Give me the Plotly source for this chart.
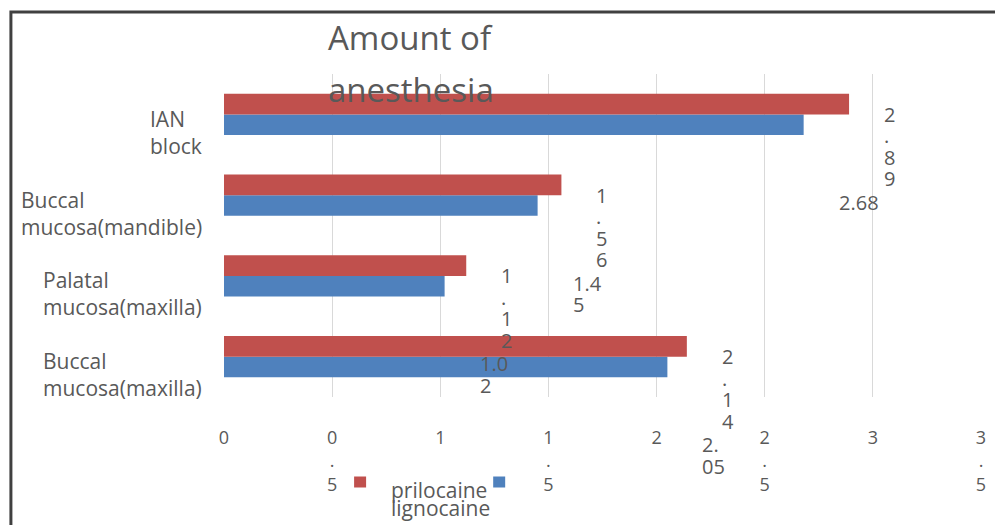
import plotly.graph_objects as go

# ---- data -------------------------------------------------------------
categories = [
    "Buccal mucosa(maxilla)",
    "Palatal mucosa(maxilla)",
    "Buccal mucosa(mandible)",
    "IAN block",
]
prilocaine = [2.14, 1.12, 1.56, 2.89]
lignocaine = [2.05, 1.02, 1.45, 2.68]
series_names = ["prilocaine", "lignocaine"]
x_ticks = [0, 0.5, 1, 1.5, 2, 2.5, 3, 3.5]
title_lines = ["Amount of", "anesthesia"]

# characters per line of each wrapped value label
prilocaine_wrap = [1, 1, 1, 1]
lignocaine_wrap = [2, 3, 3, 4]

# ---- style ------------------------------------------------------------
RED = "#c0504d"
BLUE = "#4f81bd"
TEXT = "#595959"
GRID = "#d9d9d9"
FONT = "Open Sans"

W, H = 995, 525
L, R, T, B = 224, 9, 74, 128


def px_x(px):
    return (px - L) / (W - L - R)


def px_y(py):
    return (H - B - py) / (H - T - B)


def wrap(text, width):
    return [text[i:i + width] for i in range(0, len(text), width)]


fig = go.Figure()
fig.add_trace(go.Bar(y=categories, x=lignocaine, name=series_names[1],
                     orientation="h", marker=dict(color=BLUE, line=dict(width=0))))
fig.add_trace(go.Bar(y=categories, x=prilocaine, name=series_names[0],
                     orientation="h", marker=dict(color=RED, line=dict(width=0))))

# value labels, one annotation per wrapped line
LINE_H = 21.5
for vals, widths, base in ((prilocaine, prilocaine_wrap, 0),
                           (lignocaine, lignocaine_wrap, -88)):
    for cat, v, w in zip(categories, vals, widths):
        for i, line in enumerate(wrap(f"{v:.2f}", w)):
            fig.add_annotation(x=v, y=cat, xref="x", yref="y", text=line,
                               showarrow=False, xanchor="left", yanchor="middle",
                               xshift=33, yshift=base - i * LINE_H,
                               font=dict(family=FONT, size=20, color=TEXT))

# category labels, left-aligned blocks ending left of the plot
for cat in categories:
    first, rest = cat.split(" ", 1)
    fig.add_annotation(x=0, y=cat, xref="paper", yref="y",
                       text=f"{first}<br>{rest}", showarrow=False,
                       xanchor="right", yanchor="middle", align="left",
                       xshift=-20, yshift=-18,
                       font=dict(family=FONT, size=21, color=TEXT))

# chart title on two widely spaced lines
for line, py in zip(title_lines, (37, 89)):
    fig.add_annotation(x=px_x(412), y=px_y(py), xref="paper", yref="paper",
                       text=line, showarrow=False, xanchor="center",
                       yanchor="middle",
                       font=dict(family=FONT, size=33, color=TEXT))

# legend: two swatches and stacked names
for color, cx in ((RED, 361), (BLUE, 501)):
    fig.add_shape(type="rect", xref="paper", yref="paper",
                  xsizemode="pixel", ysizemode="pixel",
                  xanchor=px_x(cx), yanchor=px_y(482),
                  x0=-6, x1=6, y0=-5.5, y1=5.5,
                  fillcolor=color, line=dict(width=0))
for name, py in zip(series_names, (490, 508)):
    fig.add_annotation(x=px_x(390), y=px_y(py), xref="paper", yref="paper",
                       text=name, showarrow=False, xanchor="left",
                       yanchor="middle",
                       font=dict(family=FONT, size=21, color=TEXT))

# outer chart frame
fig.add_shape(type="rect", xref="paper", yref="paper",
              x0=px_x(9.5), x1=px_x(1100), y0=px_y(700), y1=px_y(12),
              line=dict(color="#404040", width=3), fillcolor="rgba(0,0,0,0)")

fig.update_layout(
    width=W, height=H,
    margin=dict(l=L, r=R, t=T, b=B),
    paper_bgcolor="white", plot_bgcolor="white",
    barmode="group", bargap=0.49, bargroupgap=0,
    showlegend=False,
    font=dict(family=FONT, color=TEXT),
    xaxis=dict(range=[0, 3.5], tickvals=x_ticks,
               ticktext=["<br>".join(f"{v:g}") for v in x_ticks],
               showgrid=True, gridcolor=GRID, gridwidth=1,
               zeroline=False, showline=False, ticks="",
               ticklabelstandoff=28,
               tickfont=dict(family=FONT, size=18, color=TEXT),
               fixedrange=True),
    yaxis=dict(categoryorder="array", categoryarray=categories,
               range=[-0.5, len(categories) - 0.5], autorange=False,
               showticklabels=False, showgrid=False, zeroline=False,
               showline=False, ticks="", fixedrange=True),
)

fig.write_html("out.html")
